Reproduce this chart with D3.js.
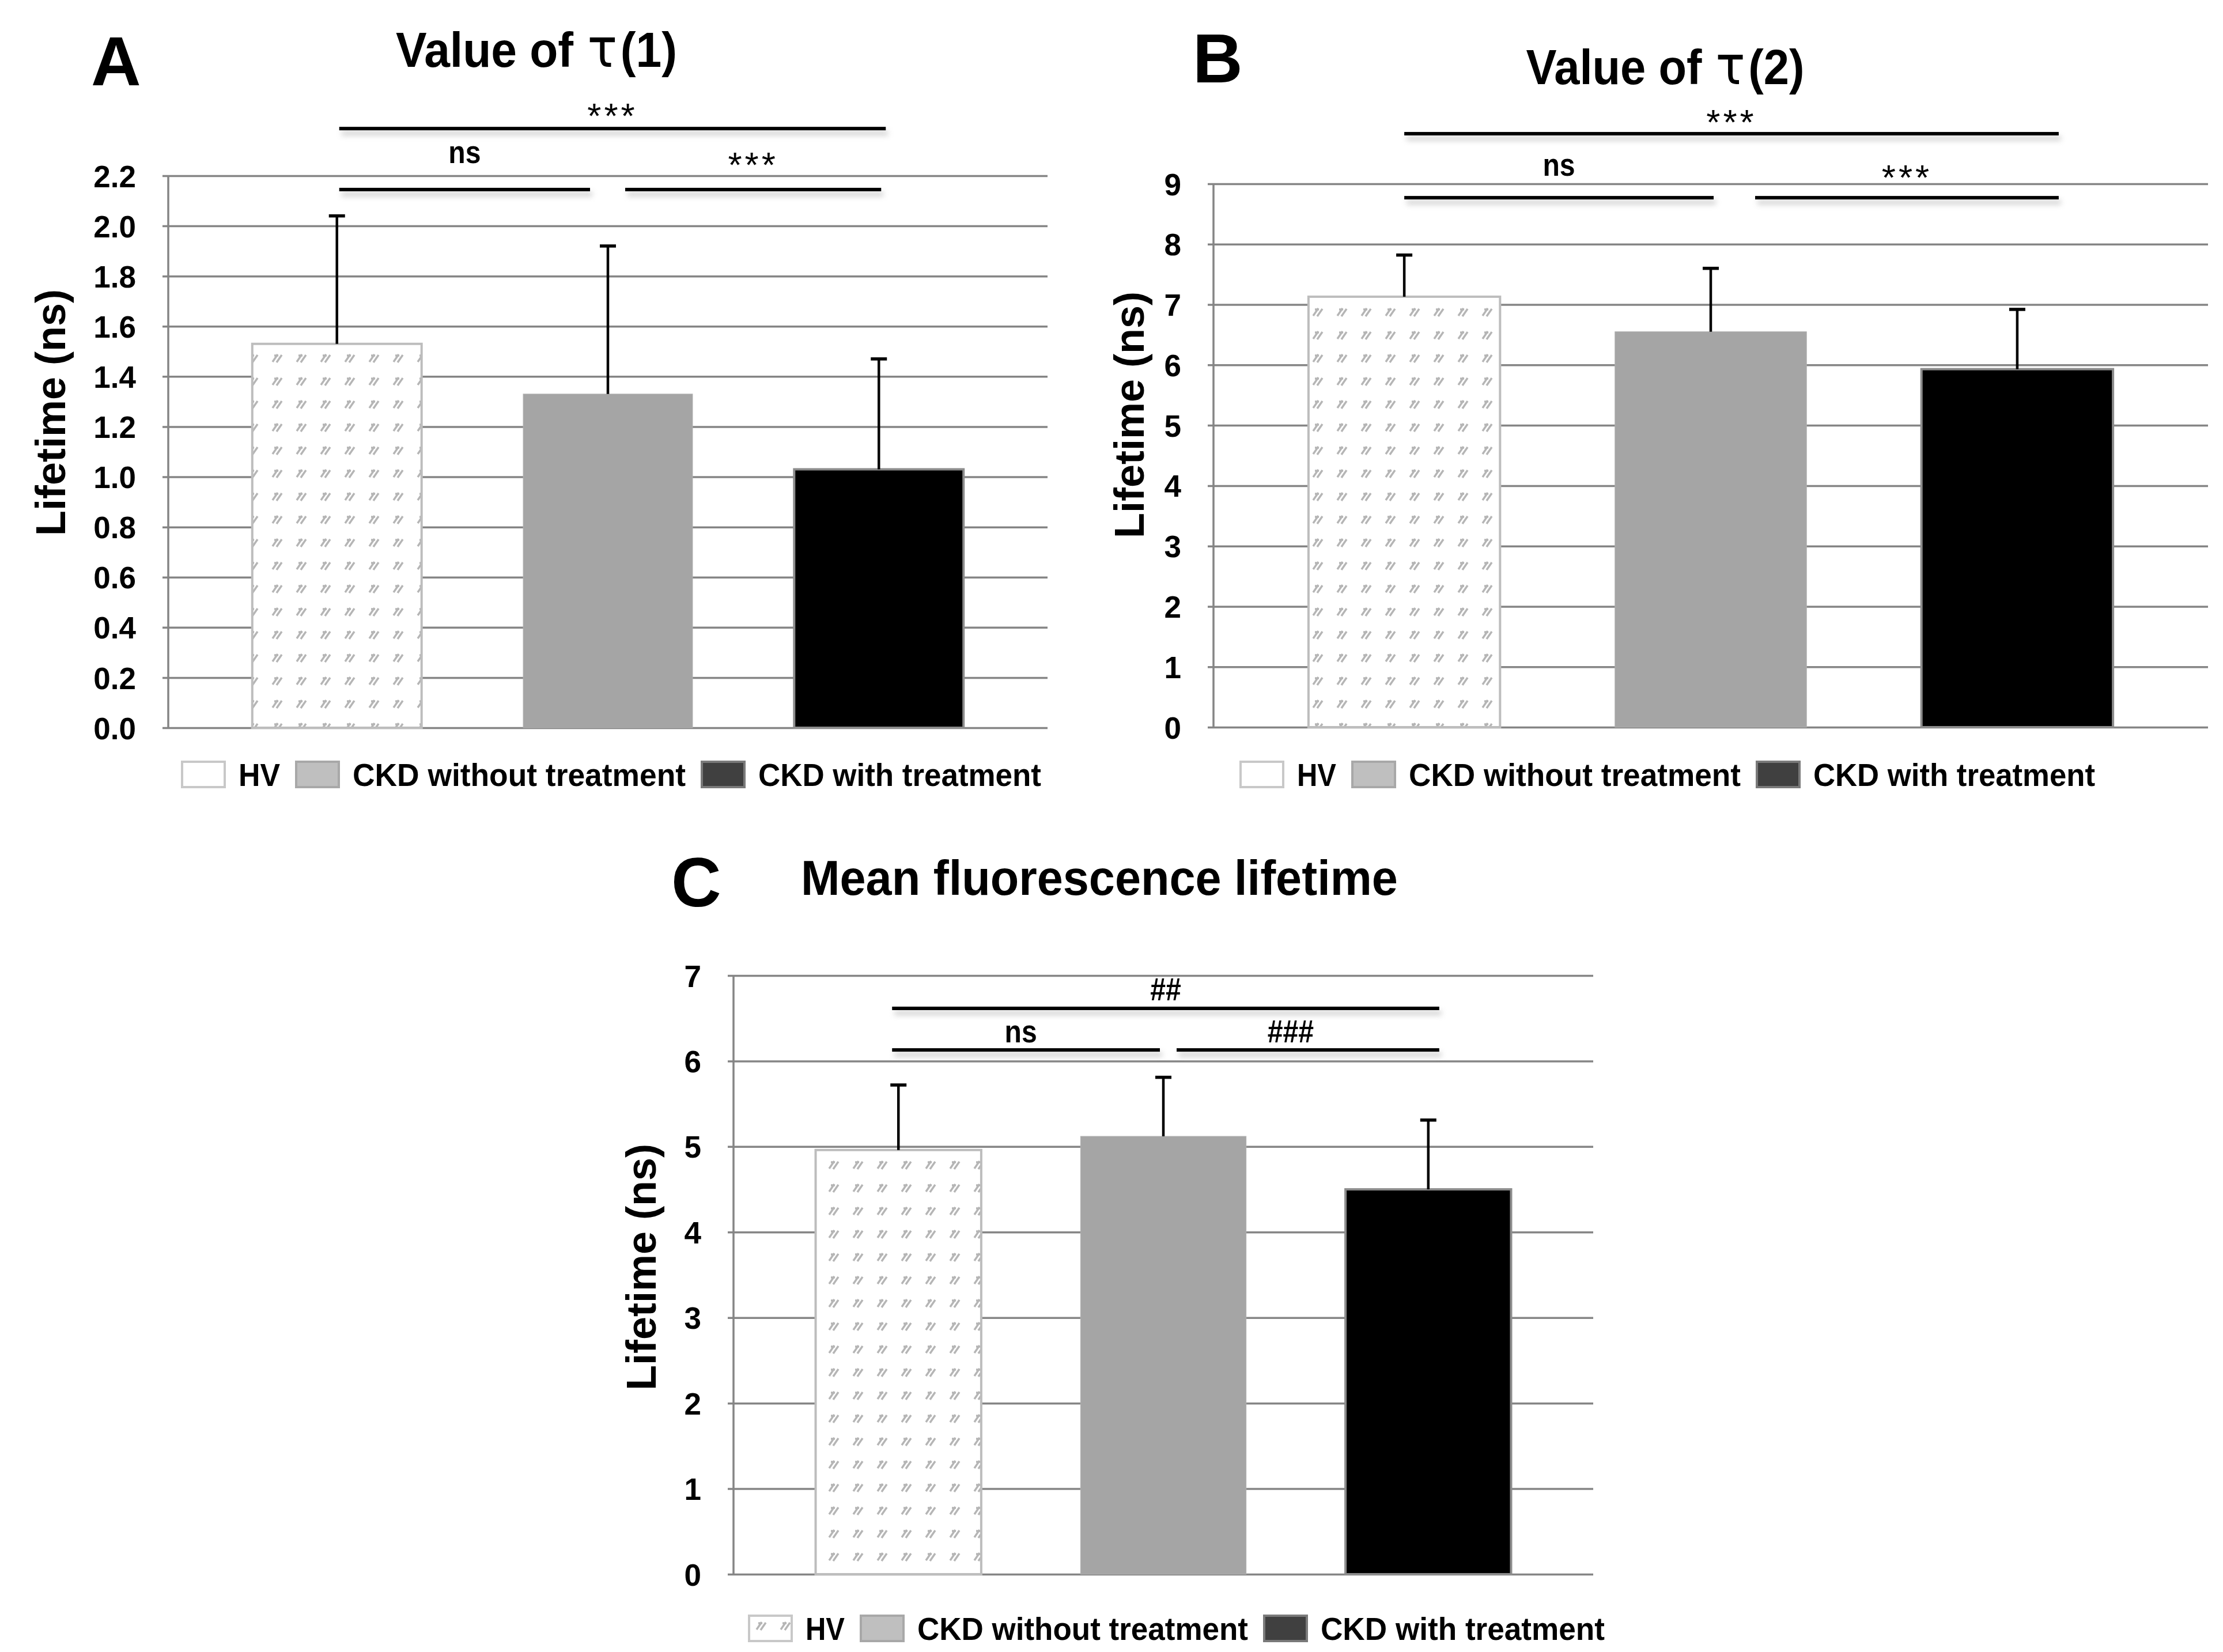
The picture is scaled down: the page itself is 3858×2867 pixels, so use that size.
<!DOCTYPE html>
<html>
<head>
<meta charset="utf-8">
<script src="https://cdn.jsdelivr.net/npm/d3@7"></script>
<style>
  body { margin: 0; background: #fff; }
  svg { display: block; }
</style>
</head>
<body>
<div id="chart"></div>
<script>
var categories = ['HV', 'CKD without treatment', 'CKD with treatment'];

// panel A, tau(1)
var tau1Mean = [1.53, 1.33, 1.03];
var tau1Err = [0.51, 0.59, 0.44];
var tau1Ticks = [0, 0.2, 0.4, 0.6, 0.8, 1.0, 1.2, 1.4, 1.6, 1.8, 2.0, 2.2];
var tau1Sig = ['***', 'ns', '***'];

// panel B, tau(2)
var tau2Mean = [7.13, 6.55, 5.93];
var tau2Err = [0.69, 1.05, 0.99];
var tau2Ticks = [0, 1, 2, 3, 4, 5, 6, 7, 8, 9];
var tau2Sig = ['***', 'ns', '***'];

// panel C, mean lifetime
var meanMean = [4.96, 5.12, 4.50];
var meanErr = [0.76, 0.69, 0.81];
var meanTicks = [0, 1, 2, 3, 4, 5, 6, 7];
var meanSig = ['##', 'ns', '###'];

// which bars each bracket joins (top bracket first)
var sigPairs = [[0, 2], [0, 1], [1, 2]];

var width = 3858,
    height = 2867,
    sans = "'Liberation Sans', Arial, sans-serif",
    squeeze = 0.86;   // for the condensed "ns" / "#" labels

var barFill = ['url(#hvDash)', '#a5a5a5', '#000000'],
    barStroke = ['#bdbdbd', '#b0b0b0', '#8c8c8c'],
    legendFill = ['#ffffff', '#bfbfbf', '#404040'],
    legendStroke = ['#c8c8c8', '#a8a8a8', '#7a7a7a'];

var svg = d3.select('#chart')
    .append('svg')
    .attr('width', width)
    .attr('height', height);

var defs = svg.append('defs');

var pat = defs.append('pattern')
    .attr('id', 'hvDash')
    .attr('patternUnits', 'userSpaceOnUse')
    .attr('width', 42)
    .attr('height', 40);
pat.append('rect').attr('width', 42).attr('height', 40).attr('fill', '#fff');
pat.append('path')
    .attr('d', 'M11,28 L20,15 M18,29 L27,16 M14,17 L21,17')
    .attr('stroke', '#b5b5b5')
    .attr('stroke-width', 3.5);

defs.append('filter')
    .attr('id', 'blur')
    .attr('x', '-10%').attr('y', '-200%')
    .attr('width', '120%').attr('height', '500%')
    .append('feGaussianBlur')
    .attr('stdDeviation', 5);

var panels = [
    {
        letter: 'A', letterX: 158, letterY: 148,
        title: ['Value of', 'τ', '(1)'], titleX: 931, titleY: 116, titleAnchor: 'middle', titleW: 488,
        mean: tau1Mean, err: tau1Err, ticks: tau1Ticks, fmt: d3.format('.1f'),
        sig: tau1Sig, sigLevels: [2.388, 2.145], sigGaps: [25, 46],
        sigOffsets: [[4, 12], [4, -31], [30, 4]], sigDx: [0, 0, 0],
        left: 292, right: 1818, top: 305, bottom: 1263, yMax: 2.2,
        yTitleX: 88, yTitleY: 716,
        legendX: 316, legendY: 1344, legendLens: [72, 578, 491], legendPattern: false
    },
    {
        letter: 'B', letterX: 2070, letterY: 143,
        title: ['Value of', 'τ', '(2)'], titleX: 2890, titleY: 146, titleAnchor: 'middle', titleW: 483,
        mean: tau2Mean, err: tau2Err, ticks: tau2Ticks, fmt: d3.format('d'),
        sig: tau2Sig, sigLevels: [9.83, 8.77], sigGaps: [23, 38],
        sigOffsets: [[0, 72], [0, 5], [77, 72]], sigDx: [0, 0, 0],
        left: 2106, right: 3832, top: 319, bottom: 1262, yMax: 9,
        yTitleX: 1960, yTitleY: 720,
        legendX: 2153, legendY: 1344, legendLens: [68, 576, 489], legendPattern: false
    },
    {
        letter: 'C', letterX: 1165, letterY: 1573,
        title: ['Mean fluorescence lifetime'], titleX: 1390, titleY: 1553, titleAnchor: 'start', titleW: 1036,
        mean: meanMean, err: meanErr, ticks: meanTicks, fmt: d3.format('d'),
        sig: meanSig, sigLevels: [6.616, 6.13], sigGaps: [14, 13],
        sigOffsets: [[-11, 19], [-11, -6], [23, 19]], sigDx: [0, -9, -30],
        left: 1273, right: 2765, top: 1693, bottom: 2732, yMax: 7,
        yTitleX: 1113, yTitleY: 2199,
        legendX: 1300, legendY: 2826, legendLens: [68, 574, 493], legendPattern: true
    }
];

panels.forEach(drawPanel);

// condensed bold label: a squeezed Liberation Sans Bold
function narrowText(parent, x, y, str, size, anchor) {
    return parent.append('g')
        .attr('transform', `translate(${x},${y}) scale(${squeeze},1)`)
        .append('text')
        .attr('text-anchor', anchor || 'start')
        .style('font-family', sans)
        .style('font-weight', 'bold')
        .style('font-size', size + 'px')
        .text(str);
}

function drawPanel(p) {
    var g = svg.append('g').attr('class', 'panel');

    var x = d3.scaleBand()
        .domain(categories)
        .range([p.left, p.right])
        .paddingInner(0.375)
        .paddingOuter(0.31);

    var y = d3.scaleLinear()
        .domain([0, p.yMax])
        .range([p.bottom, p.top]);

    // y axis with gridlines
    var yAxis = d3.axisLeft(y)
        .tickValues(p.ticks)
        .tickFormat(p.fmt)
        .tickSize(-(p.right - p.left))
        .tickSizeOuter(0);

    var ax = g.append('g')
        .attr('transform', `translate(${p.left},0)`)
        .call(yAxis);
    ax.select('.domain').remove();
    ax.selectAll('.tick line')
        .attr('x1', -10)
        .attr('stroke', '#858585')
        .attr('stroke-width', 3.5);
    ax.selectAll('.tick text')
        .attr('x', -56)
        .attr('dy', '0.36em')
        .attr('fill', '#000')
        .style('font-family', sans)
        .style('font-weight', 'bold')
        .style('font-size', '53px');

    g.append('line')
        .attr('x1', p.left).attr('x2', p.left)
        .attr('y1', y(p.yMax)).attr('y2', y(0))
        .attr('stroke', '#858585')
        .attr('stroke-width', 3.5);

    // bars
    g.selectAll('.bar')
        .data(categories)
        .enter().append('rect')
        .attr('class', 'bar')
        .attr('x', d => x(d))
        .attr('width', x.bandwidth())
        .attr('y', (d, i) => y(p.mean[i]))
        .attr('height', (d, i) => y(0) - y(p.mean[i]))
        .attr('fill', (d, i) => barFill[i])
        .attr('stroke', (d, i) => barStroke[i])
        .attr('stroke-width', (d, i) => i === 1 ? 1 : 4);

    // upper error bars
    var eb = g.selectAll('.err')
        .data(categories)
        .enter().append('g')
        .attr('class', 'err')
        .attr('transform', d => `translate(${x(d) + x.bandwidth() / 2},0)`);
    eb.append('line')
        .attr('y1', (d, i) => y(p.mean[i]))
        .attr('y2', (d, i) => y(p.mean[i] + p.err[i]))
        .attr('stroke', '#000')
        .attr('stroke-width', 4.5);
    eb.append('line')
        .attr('x1', -14).attr('x2', 14)
        .attr('y1', (d, i) => y(p.mean[i] + p.err[i]))
        .attr('y2', (d, i) => y(p.mean[i] + p.err[i]))
        .attr('stroke', '#000')
        .attr('stroke-width', 5.5);

    // significance brackets, with a soft shadow underneath
    sigPairs.forEach(function (pair, k) {
        var lvl = k === 0 ? 0 : 1,
            ly = y(p.sigLevels[lvl]),
            x1 = x(categories[pair[0]]) + x.bandwidth() / 2 + p.sigOffsets[k][0],
            x2 = x(categories[pair[1]]) + x.bandwidth() / 2 + p.sigOffsets[k][1],
            lx = (x1 + x2) / 2 + p.sigDx[k],
            label = p.sig[k];

        g.append('rect')
            .attr('x', x1 + 4).attr('y', ly + 4)
            .attr('width', x2 - x1).attr('height', 8)
            .attr('fill', '#b5b5b5')
            .attr('opacity', 0.6)
            .attr('filter', 'url(#blur)');
        g.append('rect')
            .attr('x', x1).attr('y', ly - 3)
            .attr('width', x2 - x1).attr('height', 6)
            .attr('fill', '#000');

        if (label.indexOf('*') >= 0) {
            g.append('text')
                .attr('x', lx)
                .attr('y', ly - p.sigGaps[lvl] + 24)
                .attr('text-anchor', 'middle')
                .style('font-family', sans)
                .style('font-size', '62px')
                .style('letter-spacing', '5px')
                .text(label);
        } else {
            narrowText(g, lx, ly - p.sigGaps[lvl], label, 56, 'middle');
        }
    });

    // y axis title
    g.append('text')
        .attr('transform', `translate(${p.yTitleX},${p.yTitleY}) rotate(-90)`)
        .attr('text-anchor', 'middle')
        .attr('dy', '0.35em')
        .style('font-family', sans)
        .style('font-weight', 'bold')
        .style('font-size', '72px')
        .text('Lifetime (ns)');

    // panel letter
    g.append('text')
        .attr('x', p.letterX)
        .attr('y', p.letterY)
        .style('font-family', sans)
        .style('font-weight', 'bold')
        .style('font-size', '120px')
        .text(p.letter);

    // title, pieces laid end to end, then squeezed to the reference width
    var tg = g.append('g'),
        tx = 0;
    p.title.forEach(function (part, i) {
        var t = tg.append('text')
            .attr('x', tx)
            .attr('y', 0)
            .style('font-family', sans)
            .style('font-weight', 'bold')
            .style('font-size', '86px')
            .text(part);
        if (part === 'τ') {
            t.style('font-family', "'DejaVu Sans', sans-serif")
                .style('font-weight', 'normal')
                .style('font-size', '92px');
        }
        tx += t.node().getComputedTextLength();
        if (i === 0 && p.title.length > 1) tx += 26;
        if (part === 'τ') tx += 6;
    });
    var sx = p.titleW / tx,
        tx0 = p.titleAnchor === 'middle' ? p.titleX - p.titleW / 2 : p.titleX;
    tg.attr('transform', `translate(${tx0},${p.titleY}) scale(${sx},1)`);

    // legend
    var lx = p.legendX;
    categories.forEach(function (c, i) {
        g.append('rect')
            .attr('x', lx)
            .attr('y', p.legendY - 22)
            .attr('width', 74)
            .attr('height', 44)
            .attr('fill', (i === 0 && p.legendPattern) ? 'url(#hvDash)' : legendFill[i])
            .attr('stroke', legendStroke[i])
            .attr('stroke-width', 4);
        lx += 74 + 24;
        g.append('text')
            .attr('x', lx)
            .attr('y', p.legendY + 20)
            .attr('textLength', p.legendLens[i])
            .attr('lengthAdjust', 'spacingAndGlyphs')
            .style('font-family', sans)
            .style('font-weight', 'bold')
            .style('font-size', '56px')
            .text(c);
        lx += p.legendLens[i] + 28;
    });
}
</script>
</body>
</html>
